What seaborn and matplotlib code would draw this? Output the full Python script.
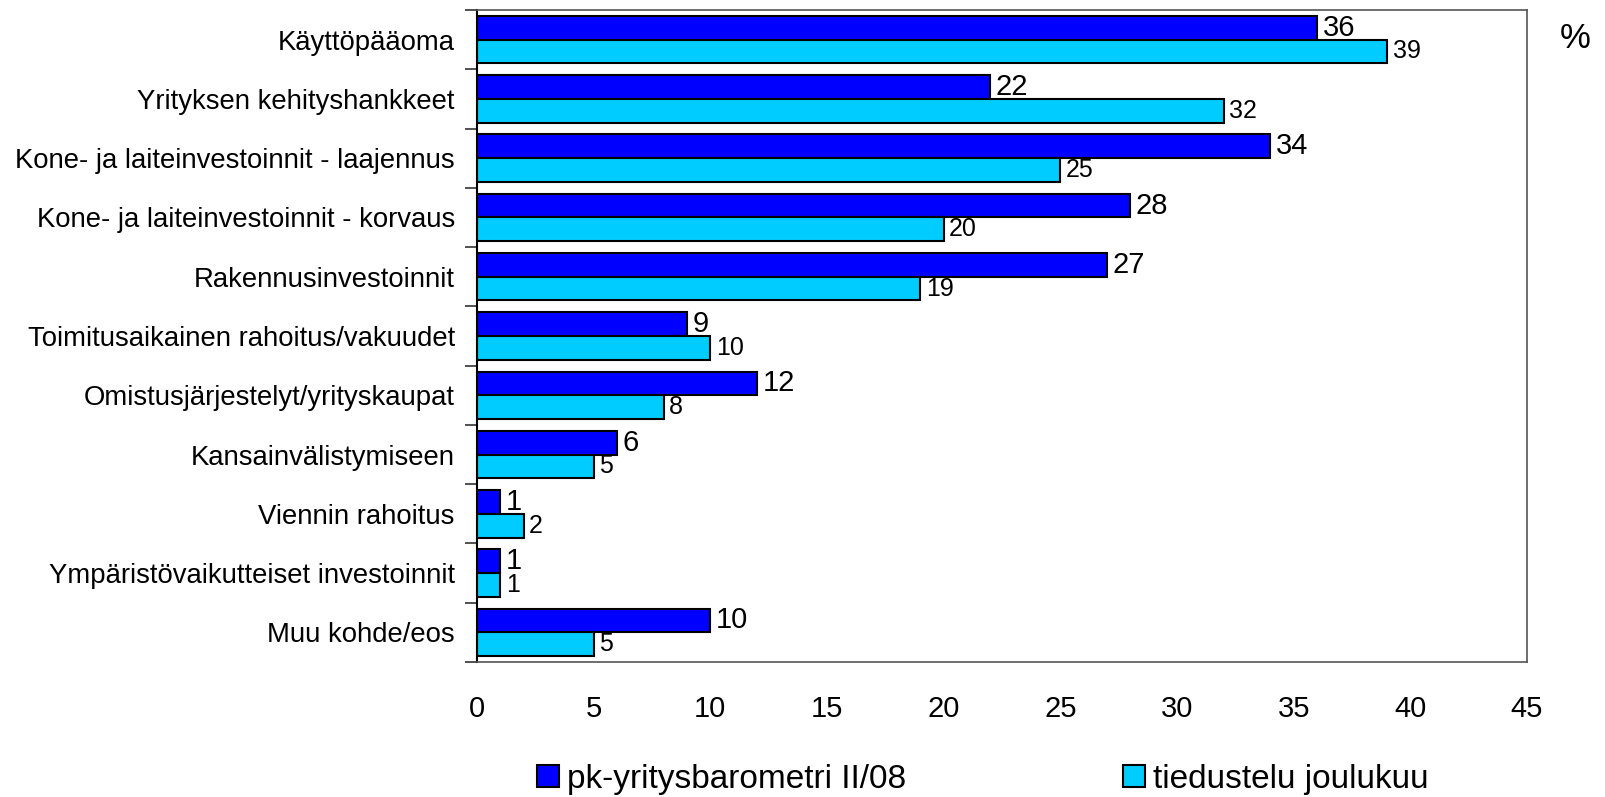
import matplotlib
matplotlib.use('Agg')
import matplotlib.pyplot as plt
import seaborn as sns
import pandas as pd

darkcol = '#0000ff'
lightcol = '#00ccff'

sns.set_style("white", {'text.color': 'black', 'xtick.color': 'black',
                        'ytick.color': 'black', 'axes.labelcolor': 'black'})
plt.rcParams['font.family'] = ['Liberation Sans', 'DejaVu Sans']

categories = ["Käyttöpääoma", "Yrityksen kehityshankkeet",
              "Kone- ja laiteinvestoinnit - laajennus",
              "Kone- ja laiteinvestoinnit - korvaus",
              "Rakennusinvestoinnit", "Toimitusaikainen rahoitus/vakuudet",
              "Omistusjärjestelyt/yrityskaupat", "Kansainvälistymiseen",
              "Viennin rahoitus", "Ympäristövaikutteiset investoinnit",
              "Muu kohde/eos"]
series = ["pk-yritysbarometri II/08", "tiedustelu joulukuu"]
barometri = [36, 22, 34, 28, 27, 9, 12, 6, 1, 1, 10]
tiedustelu = [39, 32, 25, 20, 19, 10, 8, 5, 2, 1, 5]
xticks = [0, 5, 10, 15, 20, 25, 30, 35, 40, 45]

df = pd.DataFrame({
    'Kohde': categories * 2,
    'Sarja': [series[0]] * len(categories) + [series[1]] * len(categories),
    'Osuus': barometri + tiedustelu,
})

fig = plt.figure(figsize=(16.06, 7.97), dpi=100)
ax = fig.add_axes([0.297, 0.1694, 0.6538, 0.8181])

sns.barplot(data=df, x='Osuus', y='Kohde', hue='Sarja', orient='h',
            palette={series[0]: darkcol, series[1]: lightcol},
            saturation=1, edgecolor='black', linewidth=1.5, width=0.8,
            errorbar=None, ax=ax)

ax.bar_label(ax.containers[0], padding=4, fontsize=21)
ax.bar_label(ax.containers[1], padding=4, fontsize=18)

ax.set_xlim(0, 45)
ax.set_ylim(len(categories) - 0.5, -0.5)
ax.set_xticks(xticks)
ax.tick_params(axis='x', length=0, pad=24, labelsize=21)
ax.tick_params(axis='y', which='major', length=0, pad=16, labelsize=19.8)
ax.set_yticks([i - 0.5 for i in range(len(categories) + 1)], minor=True)
ax.tick_params(axis='y', which='minor', length=9, width=1.2, direction='out',
               color='#333333', left=True)
ax.set_xlabel('')
ax.set_ylabel('')

for side in ['top', 'right', 'bottom']:
    ax.spines[side].set_color('#555555')
    ax.spines[side].set_linewidth(1.2)
ax.spines['left'].set_color('black')
ax.spines['left'].set_linewidth(1.5)

handles, labels = ax.get_legend_handles_labels()
ax.get_legend().remove()
fig.legend(handles, labels, loc='center', bbox_to_anchor=(0.612, 0.022),
           ncol=2, frameon=False, fontsize=24, handlelength=0.66,
           handleheight=0.66, handletextpad=0.24, columnspacing=6.5,
           borderpad=0)

fig.text(0.981, 0.952, '%', fontsize=25, ha='center', va='center')

plt.savefig('out.png', dpi=100)
